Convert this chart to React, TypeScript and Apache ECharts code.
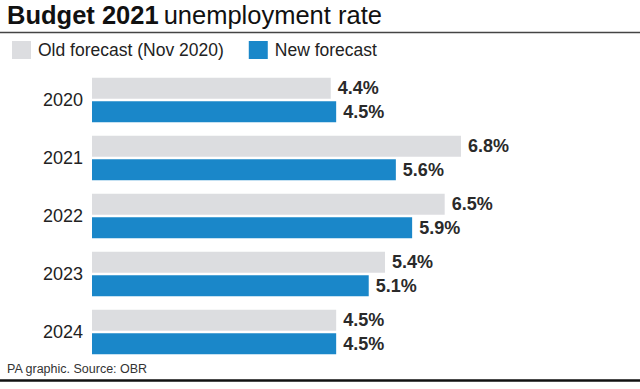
import React, { useEffect, useRef } from "react";
import * as echarts from "echarts";

const years = ["2020", "2021", "2022", "2023", "2024"];
const oldForecast = [4.4, 6.8, 6.5, 5.4, 4.5];
const newForecast = [4.5, 5.6, 5.9, 5.1, 4.5];
const seriesNames = ["Old forecast (Nov 2020)", "New forecast"];

const FONT = "'Liberation Sans', Arial, Helvetica, sans-serif";
const GREY = "#dcdde0";
const BLUE = "#1a87c9";

export default function App() {
  const ref = useRef<HTMLDivElement>(null);
  useEffect(() => {
    if (!ref.current) return;
    const chart = echarts.init(ref.current, undefined, { renderer: "svg" });
    const label = {
      show: true,
      position: "right" as const,
      distance: 7,
      fontFamily: FONT,
      fontSize: 18,
      fontWeight: "bold" as const,
      color: "#2a2a2a",
      formatter: (p: any) => Number(p.value).toFixed(1) + "%",
    };
    chart.setOption({
      animation: false,
      backgroundColor: "#ffffff",
      textStyle: { fontFamily: FONT },
      title: {
        left: 7,
        top: 1,
        padding: 0,
        text: "{b|Budget 2021} {r|unemployment rate}",
        textStyle: {
          rich: {
            b: { fontFamily: FONT, fontSize: 25.5, fontWeight: "bold", color: "#111", lineHeight: 27 },
            r: { fontFamily: FONT, fontSize: 25.5, fontWeight: "normal", color: "#111", lineHeight: 27 },
          },
        },
      },
      legend: {
        left: 12,
        top: 41,
        padding: 0,
        itemWidth: 19,
        itemHeight: 18,
        itemGap: 25,
        icon: "rect",
        selectedMode: false,
        data: seriesNames,
        textStyle: {
          fontFamily: FONT,
          fontSize: 17.5,
          color: "#222",
          padding: [0, 0, 0, 2],
        },
      },
      graphic: [
        {
          type: "line",
          shape: { x1: 0, y1: 32.5, x2: 640, y2: 32.5 },
          style: { stroke: "#444", lineWidth: 1.5 },
        },
        {
          type: "line",
          shape: { x1: 0, y1: 380.5, x2: 640, y2: 380.5 },
          style: { stroke: "#111", lineWidth: 2.5 },
        },
        {
          type: "text",
          left: 7,
          top: 362,
          style: {
            text: "PA graphic. Source: OBR",
            fontFamily: FONT,
            fontSize: 12.5,
            fill: "#333",
          },
        },
      ],
      grid: { left: 92, right: 5.4, top: 71, height: 290 },
      xAxis: {
        type: "value",
        min: 0,
        max: 10,
        show: false,
      },
      yAxis: {
        type: "category",
        data: years,
        inverse: true,
        axisLine: { show: false },
        axisTick: { show: false },
        axisLabel: {
          margin: 9,
          fontFamily: FONT,
          fontSize: 18,
          color: "#222",
        },
      },
      series: [
        {
          name: seriesNames[0],
          type: "bar",
          data: oldForecast,
          barWidth: 21,
          barGap: "12%",
          itemStyle: { color: GREY },
          label,
        },
        {
          name: seriesNames[1],
          type: "bar",
          data: newForecast,
          barWidth: 21,
          barGap: "12%",
          itemStyle: { color: BLUE },
          label,
        },
      ],
    });
    return () => chart.dispose();
  }, []);
  return (
    <div
      ref={ref}
      style={{ position: "fixed", left: 0, top: 0, width: 640, height: 389 }}
    />
  );
}
